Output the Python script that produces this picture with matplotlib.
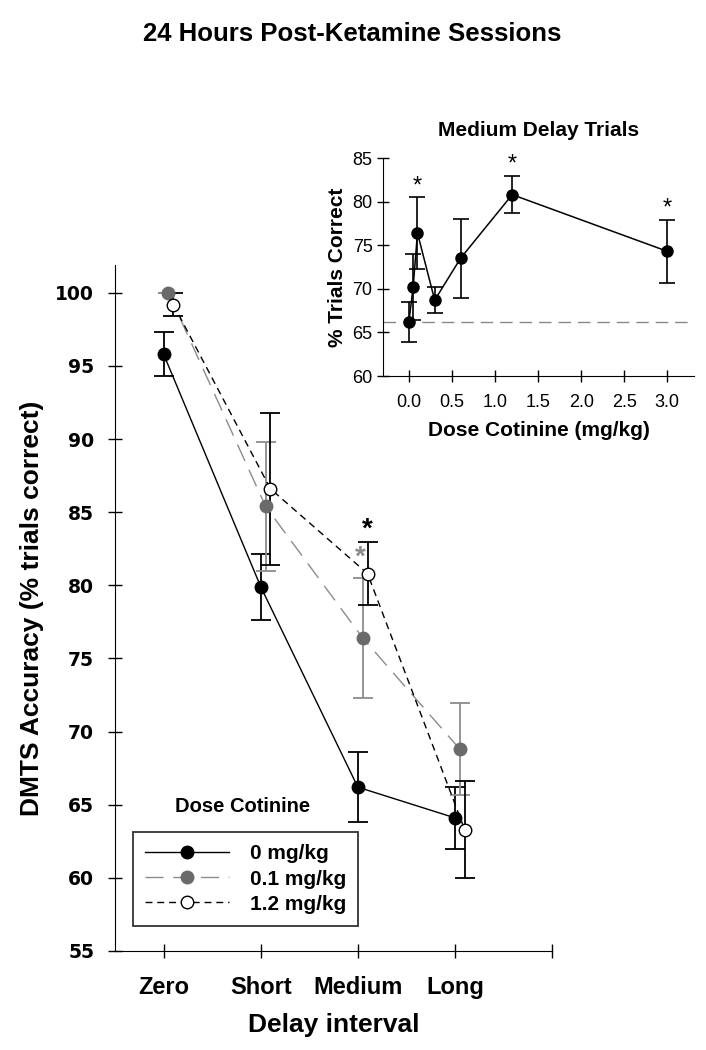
import numpy as np
import matplotlib
matplotlib.use("Agg")
import matplotlib.pyplot as plt

plt.rcParams['font.family'] = ['Liberation Sans', 'DejaVu Sans']

# main panel data
categorias = ["Zero", "Short", "Medium", "Long"]
doses = ["0 mg/kg", "0.1 mg/kg", "1.2 mg/kg"]
media_0 = [95.8, 79.9, 66.2, 64.1]
erro_0 = [1.5, 2.25, 2.4, 2.1]
media_01 = [100.0, 85.4, 76.4, 68.8]
erro_01 = [0.0, 4.4, 4.1, 3.15]
media_12 = [99.2, 86.6, 80.8, 63.3]
erro_12 = [0.8, 5.2, 2.15, 3.3]

# inset data (medium delay trials)
dose_cotinina = [0.0, 0.05, 0.1, 0.3, 0.6, 1.2, 3.0]
media_inset = [66.2, 70.2, 76.4, 68.7, 73.5, 80.8, 74.3]
erro_inset = [2.3, 3.8, 4.1, 1.5, 4.5, 2.15, 3.6]
signif_inset = [0.1, 1.2, 3.0]
linha_base = 66.2

fig = plt.figure(figsize=(7.06, 10.5), dpi=100)
fig.text(0.499, 0.968, "24 Hours Post-Ketamine Sessions", ha="center", va="center",
         fontsize=18.5, fontweight="bold")

ax = fig.add_axes([0.163, 0.0943, 0.619, 0.6533])
x = np.arange(1, 5)

cinza_marc = "#6a6a6a"
cinza = "#8c8c8c"

# 0 mg/kg
ax.errorbar(x, media_0, yerr=erro_0, fmt="none", ecolor="black", elinewidth=1.3,
            capsize=7, capthick=1.3, zorder=2)
ax.plot(x, media_0, "-", color="black", lw=1, marker="o", ms=9,
        mfc="black", mec="black", label=doses[0], zorder=4)

# 0.1 mg/kg
x01 = x + 0.05
ax.errorbar(x01, media_01, yerr=erro_01, fmt="none", ecolor=cinza, elinewidth=1.3,
            capsize=7, capthick=1.3, zorder=2)
ax.plot(x01, media_01, color=cinza, lw=1, dashes=(13, 7), marker="o", ms=9,
        mfc=cinza_marc, mec=cinza_marc, label=doses[1], zorder=3)

# 1.2 mg/kg
x12 = x + 0.1
ax.errorbar(x12, media_12, yerr=erro_12, fmt="none", ecolor="black", elinewidth=1.3,
            capsize=7, capthick=1.3, zorder=2)
ax.plot(x12, media_12, color="black", lw=1, dashes=(5, 3.5), marker="o", ms=9,
        mfc="white", mec="black", mew=1, label=doses[2], zorder=5)

# significance stars at medium delay
ax.annotate("*", (x12[2], media_12[2] + erro_12[2]), xytext=(0, 0), textcoords="offset points",
            ha="center", va="bottom", fontsize=20, fontweight="bold", color="black")
ax.annotate("*", (x01[2] - 0.03, media_01[2] + erro_01[2]), xytext=(0, 5), textcoords="offset points",
            ha="center", va="bottom", fontsize=20, fontweight="bold", color=cinza)

ax.set_xlim(0.5, 5.0)
ax.set_ylim(55, 101.9)
ax.set_xticks([1, 2, 3, 4, 5])
ax.set_xticklabels(categorias + [""], fontsize=17, fontweight="bold")
ax.set_yticks(np.arange(55, 101, 5))
ax.set_yticklabels([str(v) for v in range(55, 101, 5)], fontsize=13.5, fontweight="bold",
                   family="DejaVu Sans")
ax.tick_params(direction="inout", length=10, width=1, pad=10)
ax.tick_params(axis="x", pad=13)
for lado in ["top", "right"]:
    ax.spines[lado].set_visible(False)
ax.set_xlabel("Delay interval", fontsize=19, fontweight="bold", labelpad=10)
ax.set_ylabel("DMTS Accuracy (% trials correct)", fontsize=19, fontweight="bold", labelpad=8)

leg = ax.legend(loc="lower left", bbox_to_anchor=(0.041, 0.036), borderaxespad=0,
                frameon=True, fancybox=False, edgecolor="black", handlelength=4.0,
                handletextpad=1.0, labelspacing=0.3, borderpad=0.6,
                prop={"size": 15, "weight": "bold"})
leg.get_frame().set_linewidth(1.3)
fig.text(243 / 706, 1 - 806 / 1050, "Dose Cotinine", ha="center", va="center",
         fontsize=14.5, fontweight="bold")

# inset
ins = fig.add_axes([0.5425, 0.6419, 0.4405, 0.2076])
ins.axhline(linha_base, color="#888888", lw=1, dashes=(9, 5), zorder=1)
ins.errorbar(dose_cotinina, media_inset, yerr=erro_inset, fmt="-o", color="black", lw=1.1,
             ms=8, elinewidth=1.2, capsize=6, capthick=1.2, zorder=3)
for d in signif_inset:
    i = dose_cotinina.index(d)
    ins.annotate("*", (d, media_inset[i] + erro_inset[i]), xytext=(0, 0), textcoords="offset points",
                 ha="center", va="bottom", fontsize=17)
ins.set_xlim(-0.30, 3.31)
ins.set_ylim(60, 85)
ins.set_xticks(np.arange(0, 3.01, 0.5))
ins.set_xticklabels([f"{v:.1f}" for v in np.arange(0, 3.01, 0.5)], fontsize=13)
ins.set_yticks(np.arange(60, 86, 5))
ins.tick_params(direction="inout", length=8, width=1, labelsize=13)
ins.tick_params(axis="x", pad=9)
for lado in ["top", "right"]:
    ins.spines[lado].set_visible(False)
ins.set_title("Medium Delay Trials", fontsize=15, fontweight="bold", pad=16)
ins.set_xlabel("Dose Cotinine (mg/kg)", fontsize=15, fontweight="bold", labelpad=7)
ins.set_ylabel("% Trials Correct", fontsize=15, fontweight="bold", labelpad=4)

fig.savefig("out.png", dpi=100)
